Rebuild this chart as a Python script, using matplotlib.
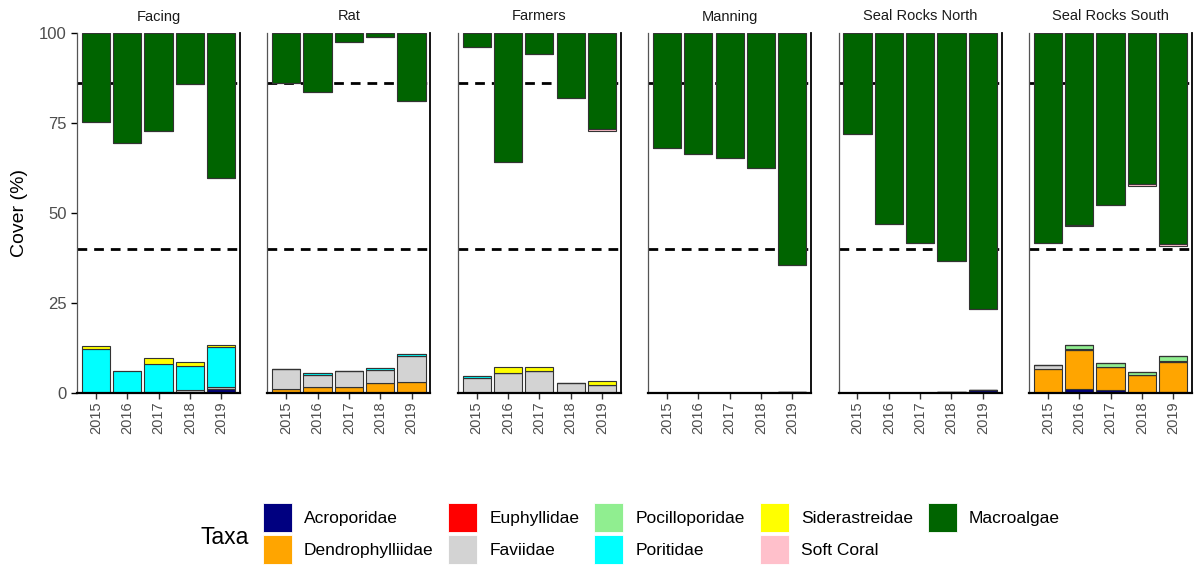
import numpy as np
import matplotlib
matplotlib.use('Agg')
import matplotlib.pyplot as plt
from matplotlib.patches import Patch, Rectangle

plt.rcParams['font.family'] = ['Liberation Sans', 'DejaVu Sans']

sites = ['Facing', 'Rat', 'Farmers', 'Manning', 'Seal Rocks North', 'Seal Rocks South']
years = ['2015', '2016', '2017', '2018', '2019']

# cover (%) per site, per year
acroporidae = [[0, 0, 0.3, 0, 1.0], [0, 0, 0, 0, 0], [0, 0, 0, 0, 0],
               [0, 0, 0, 0, 0.3], [0, 0, 0, 0.3, 0.8], [0, 1.0, 0.7, 0, 0.2]]
dendrophylliidae = [[0, 0, 0, 0, 0], [1.2, 1.75, 1.75, 2.7, 3.0], [0, 0, 0, 0, 0],
                    [0, 0, 0, 0, 0], [0, 0, 0, 0, 0], [6.6, 10.9, 6.4, 4.9, 8.3]]
euphyllidae = [[0, 0, 0, 0, 0]] * 6
faviidae = [[0, 0, 0, 0.7, 0.6], [5.4, 3.15, 4.45, 3.7, 7.3], [4.3, 5.5, 6.1, 2.9, 2.2],
            [0, 0, 0, 0, 0], [0, 0, 0, 0, 0], [1.3, 0.4, 0, 0, 0.5]]
pocilloporidae = [[0, 0, 0, 0, 0], [0, 0, 0, 0, 0], [0, 0, 0, 0, 0],
                  [0, 0, 0, 0, 0], [0, 0, 0, 0, 0], [0, 0.9, 1.3, 0.9, 1.2]]
poritidae = [[12.1, 6.1, 7.7, 6.7, 11.1], [0, 0.6, 0, 0.5, 0.4], [0.4, 0, 0, 0, 0],
             [0, 0, 0, 0, 0], [0, 0, 0, 0, 0], [0, 0, 0, 0, 0]]
siderastreidae = [[1.0, 0, 1.6, 1.1, 0.6], [0, 0, 0, 0, 0], [0, 1.6, 1.0, 0, 1.0],
                  [0, 0, 0, 0, 0], [0, 0, 0, 0, 0], [0, 0, 0, 0, 0]]
soft_coral = [[0, 0, 0, 0, 0], [0, 0, 0, 0, 0], [0, 0, 0, 0, 0.4],
              [0, 0, 0, 0, 0], [0, 0, 0, 0, 0], [0, 0.4, 0, 0.4, 0.4]]
macroalgae = [[24.7, 30.6, 27.2, 14.2, 40.3], [13.9, 16.3, 2.4, 1.2, 18.8],
              [3.9, 35.8, 5.8, 18.0, 26.7], [32.0, 33.6, 34.7, 37.5, 64.4],
              [28.0, 53.0, 58.3, 63.3, 76.7], [58.4, 53.3, 47.8, 42.0, 58.7]]

ref_lines = [86, 40]

# stacked from the bottom up
coral_taxa = [('Acroporidae', acroporidae, 'navy'),
              ('Dendrophylliidae', dendrophylliidae, 'orange'),
              ('Euphyllidae', euphyllidae, 'red'),
              ('Faviidae', faviidae, 'lightgray'),
              ('Pocilloporidae', pocilloporidae, 'lightgreen'),
              ('Poritidae', poritidae, 'cyan'),
              ('Siderastreidae', siderastreidae, 'yellow')]
# hanging down from 100
top_taxa = [('Macroalgae', macroalgae, 'darkgreen'),
            ('Soft Coral', soft_coral, 'pink')]

legend_order = ['Acroporidae', 'Dendrophylliidae', 'Euphyllidae', 'Faviidae', 'Pocilloporidae',
                'Poritidae', 'Siderastreidae', 'Soft Coral', 'Macroalgae']


class SquareKey:
    # square legend keys like ggplot
    def legend_artist(self, legend, orig_handle, fontsize, handlebox):
        w = handlebox.width
        cy = -handlebox.ydescent + handlebox.height / 2
        r = Rectangle((-handlebox.xdescent, cy - w / 2), w, w,
                      facecolor=orig_handle.get_facecolor(), edgecolor='white', lw=0.6,
                      transform=handlebox.get_transform())
        handlebox.add_artist(r)
        return r


fig = plt.figure(figsize=(11.96, 5.65), dpi=100)
W, H = 1196, 565
x = np.arange(len(years))
edge = '#333333'

for i, site in enumerate(sites):
    left = 77 + i * 190.4
    ax = fig.add_axes([left / W, (H - 393) / H, 163 / W, 360 / H])
    for y0 in ref_lines:
        ax.axhline(y0, color='black', ls=(0, (3.5, 2.5)), lw=2, zorder=1)
    bottom = np.zeros(len(years))
    for name, vals, col in coral_taxa:
        v = np.array(vals[i], dtype=float)
        ax.bar(x, v, 0.9, bottom=bottom, color=col, edgecolor=edge, lw=0.8, zorder=2)
        bottom += v
    top = np.full(len(years), 100.0)
    for name, vals, col in top_taxa:
        v = np.array(vals[i], dtype=float)
        ax.bar(x, v, 0.9, bottom=top - v, color=col, edgecolor=edge, lw=0.8, zorder=2)
        top -= v
    ax.set_xlim(-0.6, 4.6)
    ax.set_ylim(0, 100)
    ax.set_xticks(x)
    ax.set_xticklabels(years, rotation=90, fontsize=10.5, color='#4D4D4D')
    ax.tick_params(axis='x', length=4, width=1, color='#333333', pad=2)
    ax.spines['top'].set_visible(False)
    ax.spines['bottom'].set_linewidth(1.6)
    ax.spines['left'].set_linewidth(0.9)
    ax.spines['left'].set_color('#555555')
    ax.spines['right'].set_linewidth(1.3)
    ax.set_title(site, fontsize=10.5, pad=9, color='#1A1A1A')
    if i == 0:
        ax.set_yticks([0, 25, 50, 75, 100])
        ax.tick_params(axis='y', labelsize=12, labelcolor='#4D4D4D', length=4, width=1)
        ax.set_ylabel('Cover (%)', fontsize=14, labelpad=8)
    else:
        ax.set_yticks([])

colours = {name: col for name, vals, col in coral_taxa + top_taxa}
handles = [Patch(facecolor=colours[n]) for n in legend_order]
fig.legend(handles, legend_order, loc='center', ncol=5,
           bbox_to_anchor=(0.553, 0.056), frameon=False, fontsize=12.5,
           handlelength=1.67, handleheight=1.67, labelspacing=0.5,
           columnspacing=0.86, handletextpad=0.7, borderpad=0, borderaxespad=0,
           handler_map={Patch: SquareKey()})
fig.text(249 / W, (H - 537) / H, 'Taxa', ha='right', va='center', fontsize=16.5)

fig.savefig('out.png', dpi=100)
